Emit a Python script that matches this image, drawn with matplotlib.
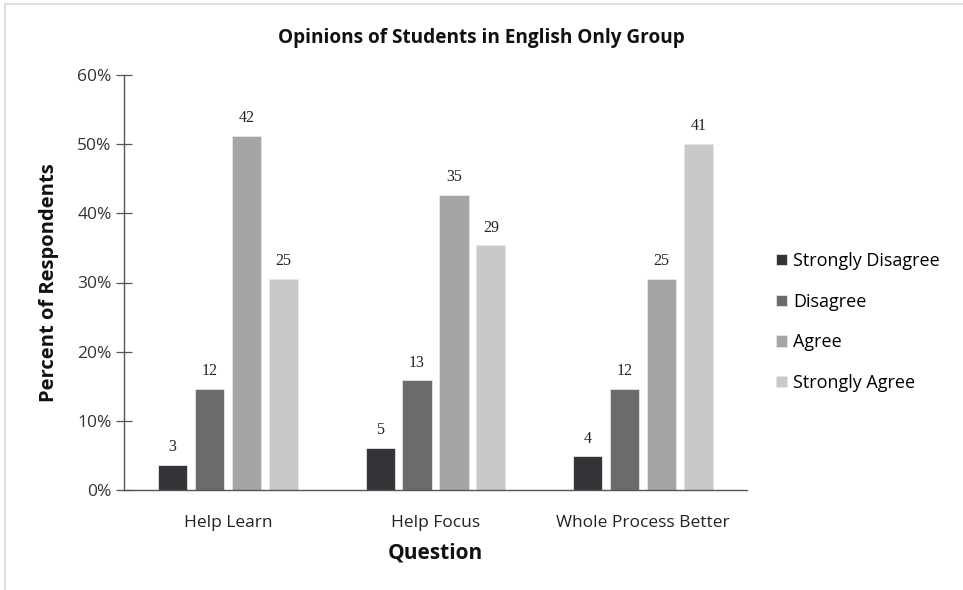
import numpy as np
import matplotlib
matplotlib.use('Agg')
from matplotlib import pyplot as plt
from matplotlib.patches import Rectangle

# Respuestas por pregunta (conteo de estudiantes, n = 82)
questions = ['Help Learn', 'Help Focus', 'Whole Process Better']
responses = ['Strongly Disagree', 'Disagree', 'Agree', 'Strongly Agree']
strongly_disagree = [3, 5, 4]
disagree = [12, 13, 12]
agree = [42, 35, 25]
strongly_agree = [25, 29, 41]
total = 82

counts = [strongly_disagree, disagree, agree, strongly_agree]
colors = ['#333438', '#6b6b6b', '#a5a5a5', '#c8c8c8']

plt.rcParams['font.family'] = ['Open Sans', 'DejaVu Sans']

fig = plt.figure(figsize=(9.63, 5.9), dpi=100)
ax = fig.add_axes([124 / 963, 100 / 590, 623 / 963, 415 / 590])

x = np.arange(len(questions))
width = 0.14
step = 0.178

for i, (serie, color) in enumerate(zip(counts, colors)):
    pct = np.array(serie) / total * 100
    pos = x + (i - 1.5) * step
    ax.bar(pos, pct, width=width, color=color, edgecolor='#e6e6e6',
           linewidth=0.6, label=responses[i], zorder=2)
    for xp, p, c in zip(pos, pct, serie):
        ax.text(xp, p + 1.4, str(c), ha='center', va='bottom',
                fontsize=11.5, family='Liberation Serif', color='#222222')

ax.set_xlim(-0.5, 2.5)
ax.set_ylim(0, 60)
ax.set_yticks(range(0, 61, 10))
ax.set_yticklabels([f'{v}%' for v in range(0, 61, 10)], fontsize=12.5, color='#333333')
ax.set_xticks(x)
ax.set_xticklabels(questions, fontsize=12.5, color='#222222')
ax.tick_params(axis='x', length=0, pad=18)
ax.tick_params(axis='y', direction='inout', length=12, width=0.9,
               color='#555555', pad=3)

for s in ['top', 'right']:
    ax.spines[s].set_visible(False)
for s in ['left', 'bottom']:
    ax.spines[s].set_color('#555555')
    ax.spines[s].set_linewidth(1.0)

fig.suptitle('Opinions of Students in English Only Group', x=0.5,
             y=1 - 38 / 590, va='center', fontsize=13.7,
             fontweight='bold', color='#111111')
ax.set_ylabel('Percent of Respondents', fontsize=14.5, fontweight='bold',
              color='#111111', labelpad=13)
ax.set_xlabel('Question', fontsize=15, fontweight='bold', color='#111111',
              labelpad=8)

ax.legend(loc='center left', bbox_to_anchor=(1.02, 0.405), frameon=False,
          fontsize=13, handlelength=0.6, handleheight=0.6,
          handletextpad=0.35, labelspacing=1.25)

# marco gris claro de la figura
fig.patches.append(Rectangle((5 / 963, -0.05), 1.2, 1.0 - 4 / 590 + 0.05,
                             transform=fig.transFigure, fill=False,
                             edgecolor='#d9d9d9', linewidth=1.2))

fig.savefig('out.png', dpi=100)
